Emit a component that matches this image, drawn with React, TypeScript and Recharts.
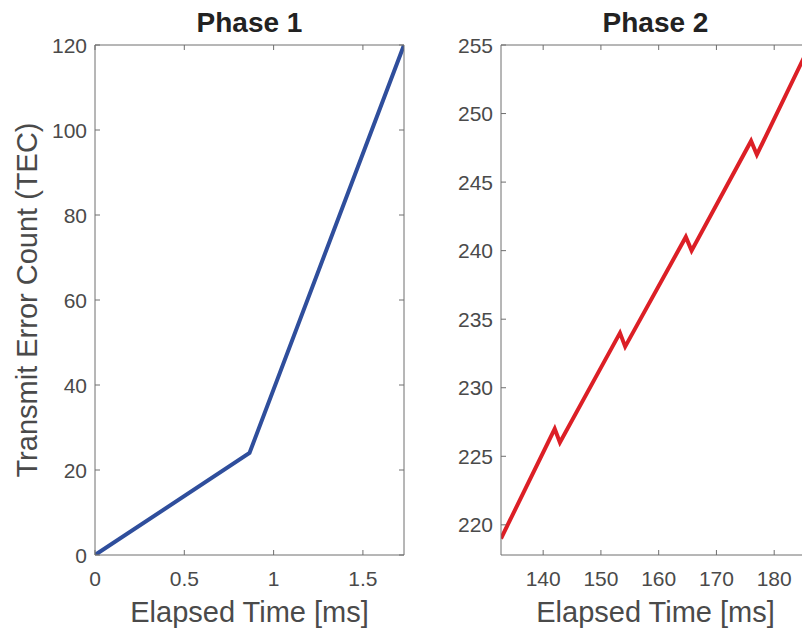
import React from 'react';
import { LineChart, Line, XAxis, YAxis } from 'recharts';

// Phase 1: transmit error count over elapsed time (ms)
const phase1Time = [0, 0.865, 1.73];
const phase1Tec = [0, 24, 120];
const phase1XTicks = [0, 0.5, 1, 1.5];
const phase1YTicks = [0, 20, 40, 60, 80, 100, 120];

// Phase 2: saw-tooth climb
const phase2Time = [132.7, 142.0, 142.9, 153.3, 154.2, 164.7, 165.7, 176.0, 177.0, 186.2];
const phase2Tec = [219, 227, 226, 234, 233, 241, 240, 248, 247, 255];
const phase2XTicks = [140, 150, 160, 170, 180];
const phase2YTicks = [220, 225, 230, 235, 240, 245, 250, 255];

const FONT = '"Liberation Sans", Arial, Helvetica, sans-serif';
const AXIS = '#6e6e6e';
const TEXT = '#4a4a4a';
const TICK_LEN = 5;

// ticks point inward, MATLAB style
const BottomTick = (props: any) => {
  const { x, y, payload } = props;
  return (
    <g>
      <line x1={x} x2={x} y1={y} y2={y - TICK_LEN} stroke={AXIS} />
      <text x={x} y={y + 31} textAnchor="middle" fill={TEXT} fontSize={21} fontFamily={FONT}>
        {String(payload.value)}
      </text>
    </g>
  );
};

const LeftTick = (props: any) => {
  const { x, y, payload } = props;
  return (
    <g>
      <line x1={x} x2={x + TICK_LEN} y1={y} y2={y} stroke={AXIS} />
      <text x={x - 8} y={y} dy="0.36em" textAnchor="end" fill={TEXT} fontSize={21} fontFamily={FONT}>
        {String(payload.value)}
      </text>
    </g>
  );
};

const TopTick = (props: any) => {
  const { x, y } = props;
  return <line x1={x} x2={x} y1={y} y2={y + TICK_LEN} stroke={AXIS} />;
};

const RightTick = (props: any) => {
  const { x, y } = props;
  return <line x1={x} x2={x - TICK_LEN} y1={y} y2={y} stroke={AXIS} />;
};

interface PanelProps {
  title: string;
  times: number[];
  values: number[];
  xDomain: [number, number];
  yDomain: [number, number];
  xTicks: number[];
  yTicks: number[];
  color: string;
  yLabel?: string;
  left: number;
}

const Panel: React.FC<PanelProps> = ({ title, times, values, xDomain, yDomain, xTicks, yTicks, color, yLabel, left }) => {
  const data = times.map((t, i) => ({ t, tec: values[i] }));

  return (
    <div style={{ position: 'absolute', left, top: 0 }}>
      <LineChart width={420} height={628} data={data} margin={{ top: 44, right: 15, bottom: 0, left: 0 }} style={{ fontFamily: FONT }}>
        <XAxis
          dataKey="t"
          type="number"
          domain={xDomain}
          ticks={xTicks}
          allowDataOverflow
          height={73}
          stroke={AXIS}
          tickLine={false}
          tickSize={0}
          tickMargin={0}
          tick={BottomTick}
          label={{ value: 'Elapsed Time [ms]', position: 'insideBottom', offset: 6, style: { fill: TEXT, fontSize: 29, fontFamily: FONT } }}
        />
        <XAxis
          xAxisId="top"
          orientation="top"
          dataKey="t"
          type="number"
          domain={xDomain}
          ticks={xTicks}
          allowDataOverflow
          height={1}
          stroke={AXIS}
          tickLine={false}
          tickSize={0}
          tickMargin={0}
          tick={TopTick}
          label={{ value: title, position: 'top', offset: 12, style: { fill: '#222', fontSize: 28, fontWeight: 'bold', fontFamily: FONT } }}
        />
        <YAxis
          type="number"
          domain={yDomain}
          ticks={yTicks}
          allowDataOverflow
          width={95}
          stroke={AXIS}
          tickLine={false}
          tickSize={0}
          tickMargin={0}
          tick={LeftTick}
          label={yLabel ? { value: yLabel, angle: -90, position: 'insideLeft', offset: 27, style: { textAnchor: 'middle', fill: TEXT, fontSize: 29, fontFamily: FONT } } : undefined}
        />
        <YAxis
          yAxisId="right"
          orientation="right"
          type="number"
          domain={yDomain}
          ticks={yTicks}
          allowDataOverflow
          width={1}
          stroke={AXIS}
          tickLine={false}
          tickSize={0}
          tickMargin={0}
          tick={RightTick}
        />
        <Line type="linear" dataKey="tec" stroke={color} strokeWidth={4} dot={false} isAnimationActive={false} />
      </LineChart>
    </div>
  );
};

export default function App() {
  return (
    <div style={{ position: 'absolute', left: 0, top: 0, width: 802, height: 628, overflow: 'hidden', background: '#fff' }}>
      <Panel
        title="Phase 1"
        times={phase1Time}
        values={phase1Tec}
        xDomain={[0, 1.73]}
        yDomain={[0, 120]}
        xTicks={phase1XTicks}
        yTicks={phase1YTicks}
        color="#2f4e9c"
        yLabel="Transmit Error Count (TEC)"
        left={0}
      />
      <Panel
        title="Phase 2"
        times={phase2Time}
        values={phase2Tec}
        xDomain={[132.7, 186.2]}
        yDomain={[217.8, 255]}
        xTicks={phase2XTicks}
        yTicks={phase2YTicks}
        color="#dc1f26"
        left={406}
      />
    </div>
  );
}
